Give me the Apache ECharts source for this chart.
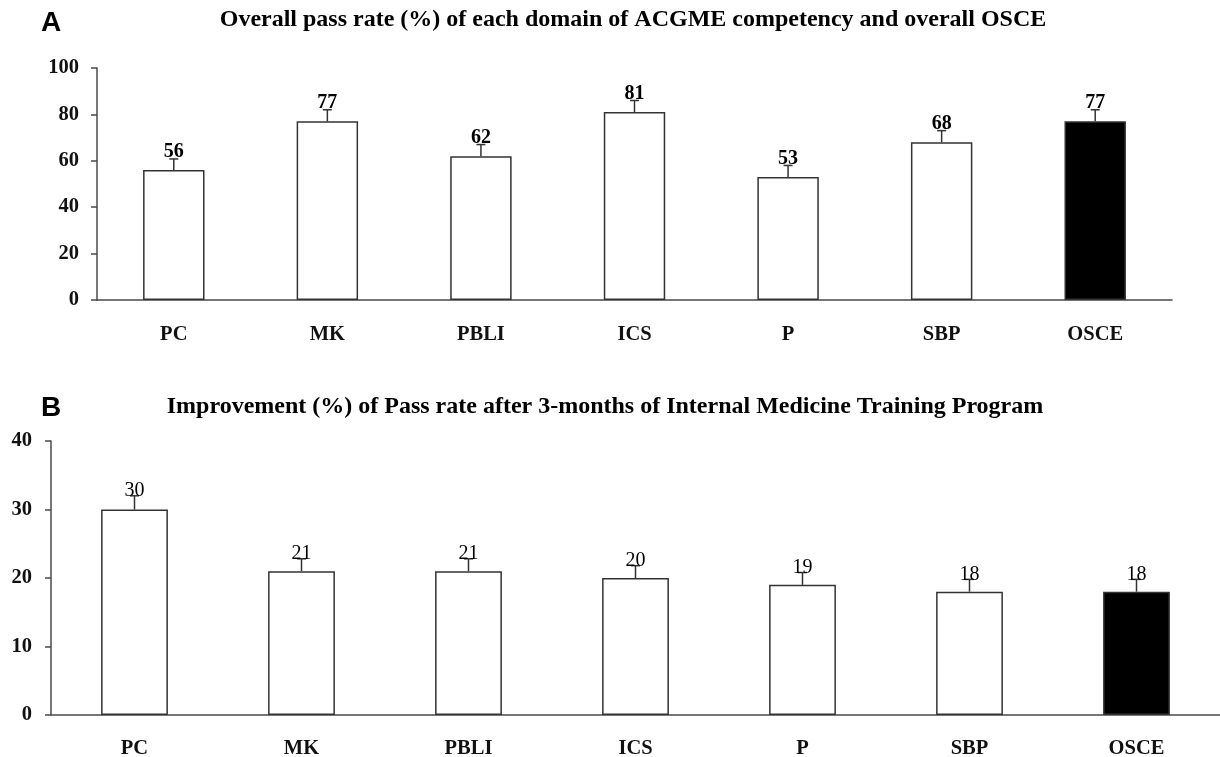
<!DOCTYPE html>
<html>
<head>
<meta charset="utf-8">
<script src="https://cdn.jsdelivr.net/npm/echarts@6/dist/echarts.min.js"></script>
<style>
html,body{margin:0;padding:0;background:#fff;}
#chart{width:1220px;height:757px;}
</style>
</head>
<body>
<div id="chart"></div>
<script>
// ---- data ----
const categories = ['PC', 'MK', 'PBLI', 'ICS', 'P', 'SBP', 'OSCE'];
const passRate = [56, 77, 62, 81, 53, 68, 77];
const passRateErr = [4.8, 5, 5, 5, 5, 5, 5];
const improvement = [30, 21, 21, 20, 19, 18, 18];
const improvementErr = [2, 1.8, 1.8, 1.8, 1.8, 1.8, 1.8];
const highlighted = 'OSCE';
const titleA = 'Overall pass rate (%) of each domain of ACGME competency and overall OSCE';
const titleB = 'Improvement (%) of Pass rate after 3-months of Internal Medicine Training Program';

const SERIF = '"Liberation Serif", "Times New Roman", serif';
const AXIS_COLOR = '#4a4a4a';

function barData(vals) {
  return vals.map((v, i) => ({
    value: v,
    itemStyle: { color: categories[i] === highlighted ? '#000' : '#fff' }
  }));
}
function errData(vals, errs) {
  return vals.map((v, i) => [i, v, errs[i]]);
}
function errRender(fontWeight, fontSize, lift) {
  return function (params, api) {
    const i = api.value(0), v = api.value(1), e = api.value(2);
    const base = api.coord([i, v]);
    const top = api.coord([i, v + e]);
    const hw = 4.5;
    return {
      type: 'group',
      children: [
        { type: 'line', shape: { x1: base[0], y1: base[1], x2: top[0], y2: top[1] },
          style: { stroke: '#333', lineWidth: 1.5 } },
        { type: 'line', shape: { x1: top[0] - hw, y1: top[1], x2: top[0] + hw, y2: top[1] },
          style: { stroke: '#333', lineWidth: 1.5 } },
        { type: 'text', x: top[0], y: top[1] + lift,
          style: { text: String(v), align: 'center', verticalAlign: 'bottom',
            fontFamily: SERIF, fontWeight: fontWeight, fontSize: fontSize, fill: '#000' } }
      ]
    };
  };
}

const chart = echarts.init(document.getElementById('chart'), null, { renderer: 'canvas' });

const xAxisCommon = {
  type: 'category',
  data: categories,
  axisLine: { lineStyle: { color: AXIS_COLOR, width: 1.5 } },
  axisTick: { inside: true, length: 6, lineStyle: { color: AXIS_COLOR, width: 1.5 } },
  axisLabel: { fontFamily: SERIF, fontWeight: 'bold', fontSize: 20.5, color: '#111' }
};
const yAxisCommon = {
  type: 'value',
  min: 0,
  splitLine: { show: false },
  axisLine: { show: true, lineStyle: { color: AXIS_COLOR, width: 1.5 } },
  axisTick: { show: true, length: 6, lineStyle: { color: AXIS_COLOR, width: 1.5 } },
  axisLabel: { fontFamily: SERIF, fontWeight: 'bold', fontSize: 20.5, color: '#111' }
};

chart.setOption({
  animation: false,
  backgroundColor: '#fff',
  graphic: [
    { type: 'text', left: 41, top: 9, style: { text: 'A', fontFamily: '"Liberation Sans", Arial, sans-serif', fontWeight: 'bold', fontSize: 28, fill: '#000' } },
    { type: 'text', left: 41, top: 394, style: { text: 'B', fontFamily: '"Liberation Sans", Arial, sans-serif', fontWeight: 'bold', fontSize: 28, fill: '#000' } }
  ],
  title: [
    { text: titleA, left: 628, top: 3, textAlign: 'center',
      textStyle: { fontFamily: SERIF, fontWeight: 'bold', fontSize: 24, color: '#000' } },
    { text: titleB, left: 600, top: 390, textAlign: 'center',
      textStyle: { fontFamily: SERIF, fontWeight: 'bold', fontSize: 24, color: '#000' } }
  ],
  grid: [
    { left: 97, top: 68, width: 1075, height: 232, outerBoundsMode: 'none', containLabel: false },
    { left: 51, top: 441, width: 1169, height: 274, outerBoundsMode: 'none', containLabel: false }
  ],
  xAxis: [
    Object.assign({}, xAxisCommon, { gridIndex: 0, axisLabel: Object.assign({}, xAxisCommon.axisLabel, { margin: 24 }) }),
    Object.assign({}, xAxisCommon, { gridIndex: 1, axisLabel: Object.assign({}, xAxisCommon.axisLabel, { margin: 23 }) })
  ],
  yAxis: [
    Object.assign({}, yAxisCommon, { gridIndex: 0, max: 100, interval: 20,
      axisLabel: Object.assign({}, yAxisCommon.axisLabel, { margin: 18 }) }),
    Object.assign({}, yAxisCommon, { gridIndex: 1, max: 40, interval: 10,
      axisLabel: Object.assign({}, yAxisCommon.axisLabel, { margin: 19 }) })
  ],
  series: [
    { type: 'bar', xAxisIndex: 0, yAxisIndex: 0, barWidth: '40%',
      itemStyle: { borderColor: '#333', borderWidth: 1.5 },
      data: barData(passRate) },
    { type: 'custom', xAxisIndex: 0, yAxisIndex: 0, z: 5,
      renderItem: errRender('bold', 20, 3),
      data: errData(passRate, passRateErr) },
    { type: 'bar', xAxisIndex: 1, yAxisIndex: 1, barWidth: '40%',
      itemStyle: { borderColor: '#333', borderWidth: 1.5 },
      data: barData(improvement) },
    { type: 'custom', xAxisIndex: 1, yAxisIndex: 1, z: 5,
      renderItem: errRender('normal', 20, 5),
      data: errData(improvement, improvementErr) }
  ]
});
</script>
</body>
</html>
